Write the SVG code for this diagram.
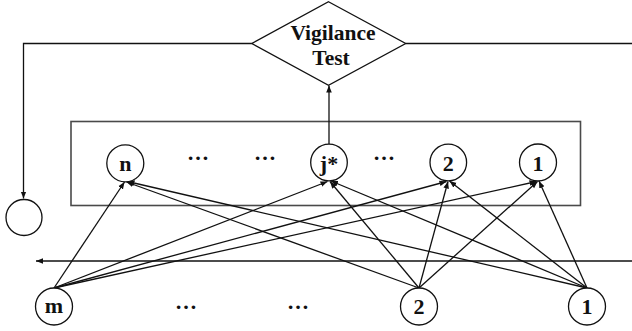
<svg xmlns="http://www.w3.org/2000/svg" width="632" height="331" viewBox="0 0 632 331">
  <style>
    .line { fill: none; stroke: #111111; stroke-width: 1.3; }
    .node { fill: #ffffff; stroke: #111111; stroke-width: 1.3; }
    .box { fill: none; stroke: #4a4a4a; stroke-width: 1.6; }
    .lbl { font-family: "Liberation Serif", "Times New Roman", serif; font-weight: bold; font-size: 22px; fill: #111111; text-anchor: middle; }
    .big { font-size: 21.5px; }
  </style>
  <defs>
    <marker id="arrow" viewBox="0 0 10 10" refX="10" refY="5" markerWidth="7" markerHeight="7" markerUnits="userSpaceOnUse" orient="auto">
      <path d="M0,1 L10,5 L0,9 Z" fill="#111111"/>
    </marker>
  </defs>

  <rect id="layer-box" class="box" x="71" y="121.5" width="509.5" height="84"/>

  <g id="connectors">
    <!-- reset feedback loop -->
    <path class="line" d="M251.7,43.5 H23.5 V198.5" marker-end="url(#arrow)"/>
    <path class="line" d="M405.7,43.5 H632"/>
    <!-- winner to vigilance test -->
    <path class="line" d="M329,144 V85.5" marker-end="url(#arrow)"/>
    <!-- input signal -->
    <path class="line" d="M632,261 H36" marker-end="url(#arrow)"/>
    <!-- bottom-up weights: m -->
    <line class="line" x1="54" y1="288" x2="124.5" y2="182" marker-end="url(#arrow)"/>
    <line class="line" x1="54" y1="288" x2="327.5" y2="181.5" marker-end="url(#arrow)"/>
    <line class="line" x1="54" y1="288" x2="446.5" y2="181.5" marker-end="url(#arrow)"/>
    <line class="line" x1="54" y1="288" x2="536.5" y2="181.5" marker-end="url(#arrow)"/>
    <!-- bottom-up weights: 2 -->
    <line class="line" x1="419" y1="288" x2="126.5" y2="182" marker-end="url(#arrow)"/>
    <line class="line" x1="419" y1="288" x2="330" y2="181.5" marker-end="url(#arrow)"/>
    <line class="line" x1="419" y1="288" x2="448" y2="181.5" marker-end="url(#arrow)"/>
    <line class="line" x1="419" y1="288" x2="537.5" y2="181.5" marker-end="url(#arrow)"/>
    <!-- bottom-up weights: 1 -->
    <line class="line" x1="587" y1="288" x2="127.5" y2="181.5" marker-end="url(#arrow)"/>
    <line class="line" x1="587" y1="288" x2="331" y2="181" marker-end="url(#arrow)"/>
    <line class="line" x1="587" y1="288" x2="449.5" y2="181" marker-end="url(#arrow)"/>
    <line class="line" x1="587" y1="288" x2="539" y2="181" marker-end="url(#arrow)"/>
  </g>

  <g id="vigilance-test">
    <polygon class="node" points="328.5,1.7 405.7,43.5 328.5,85.3 251.7,43.5"/>
    <text class="lbl big" x="333" y="40">Vigilance</text>
    <text class="lbl big" x="331" y="65">Test</text>
  </g>

  <g id="reset">
    <circle class="node" cx="24" cy="217.5" r="18"/>
  </g>

  <!-- category layer -->
  <g id="f2-n">
    <circle class="node" cx="125.3" cy="163.3" r="18.5"/>
    <text class="lbl" x="125.3" y="170.5">n</text>
  </g>
  <text class="lbl" x="198" y="160">…</text>
  <text class="lbl" x="265" y="160">…</text>
  <g id="f2-jstar">
    <circle class="node" cx="329" cy="162.5" r="18.3"/>
    <text class="lbl" x="329" y="170.5">j*</text>
  </g>
  <text class="lbl" x="384" y="160">…</text>
  <g id="f2-2">
    <circle class="node" cx="448.3" cy="162.5" r="18.3"/>
    <text class="lbl" x="448.3" y="170.5">2</text>
  </g>
  <g id="f2-1">
    <circle class="node" cx="538" cy="162.5" r="18.5"/>
    <text class="lbl" x="538" y="170.5">1</text>
  </g>

  <!-- input layer -->
  <g id="f1-m">
    <circle class="node" cx="54" cy="306.5" r="18.5"/>
    <text class="lbl" x="54" y="313">m</text>
  </g>
  <text class="lbl" x="186" y="309">…</text>
  <text class="lbl" x="298" y="309">…</text>
  <g id="f1-2">
    <circle class="node" cx="419" cy="306.5" r="18.5"/>
    <text class="lbl" x="419" y="314">2</text>
  </g>
  <g id="f1-1">
    <circle class="node" cx="587" cy="306.5" r="18.5"/>
    <text class="lbl" x="587" y="314">1</text>
  </g>
</svg>
